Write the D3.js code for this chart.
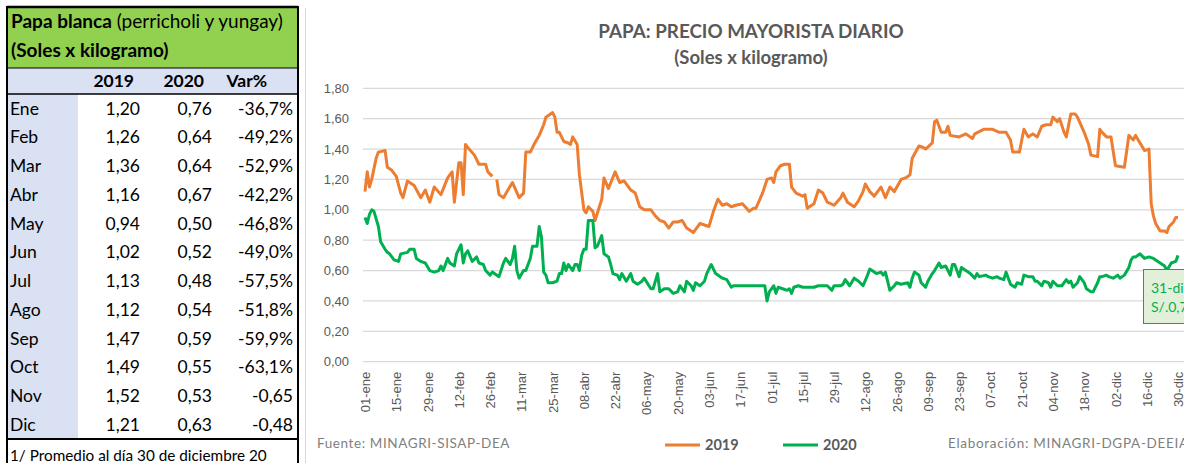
<!DOCTYPE html>
<html>
<head>
<meta charset="utf-8">
<script src="https://cdn.jsdelivr.net/npm/d3@7"></script>
<style>
	body { margin: 0; background: #fff; }
	svg { display: block; font-family: Lato, 'Open Sans', sans-serif; }
</style>
</head>
<body>
<div class="grafico"></div>
<script>
// Dimensiones generales
const width = 1184;
const height = 463;

// Tabla: promedios mensuales (soles x kg)
const meses = ['Ene', 'Feb', 'Mar', 'Abr', 'May', 'Jun', 'Jul', 'Ago', 'Sep', 'Oct', 'Nov', 'Dic'];
const prom2019 = [1.20, 1.26, 1.36, 1.16, 0.94, 1.02, 1.13, 1.12, 1.47, 1.49, 1.52, 1.21];
const prom2020 = [0.76, 0.64, 0.64, 0.67, 0.50, 0.52, 0.48, 0.54, 0.59, 0.55, 0.53, 0.63];
const variacion = ['-36,7%', '-49,2%', '-52,9%', '-42,2%', '-46,8%', '-49,0%', '-57,5%', '-51,8%', '-59,9%', '-63,1%', '-0,65', '-0,48'];

// Precio diario: [día del año (0 = 01-ene), precio]
const serie2019 = [[0,1.12],[1,1.25],[2,1.15],[3,1.20],[5,1.34],[6,1.38],[9,1.39],[10,1.28],[12,1.26],[14,1.22],[16,1.11],[17,1.08],[19,1.19],[22,1.16],[25,1.08],[27,1.13],[29,1.05],[31,1.15],[34,1.10],[37,1.21],[39,1.25],[40,1.05],[42,1.31],[43,1.31],[44,1.10],[45,1.43],[46,1.41],[49,1.36],[51,1.30],[54,1.30],[55,1.25],[57,1.22],[58,null],[59,1.20],[60,1.10],[62,1.08],[64,1.13],[66,1.18],[69,1.08],[71,1.11],[72,1.38],[74,1.38],[76,1.44],[78,1.49],[80,1.56],[81,1.61],[84,1.64],[85,1.61],[86,1.51],[87,1.51],[89,1.45],[91,1.44],[92,1.43],[93,1.48],[95,1.43],[96,1.23],[98,1.00],[99,0.98],[100,1.02],[102,0.99],[103,0.93],[106,1.07],[107,1.21],[109,1.14],[112,1.25],[114,1.18],[116,1.19],[119,1.13],[121,1.11],[123,1.02],[125,1.00],[128,1.00],[130,0.96],[132,0.93],[134,0.92],[136,0.88],[138,0.92],[140,0.92],[142,0.93],[144,0.88],[147,0.85],[150,0.91],[152,0.90],[154,0.89],[156,0.99],[158,1.07],[160,1.03],[162,1.04],[164,1.02],[166,1.03],[169,1.04],[172,0.99],[174,1.01],[175,1.01],[178,1.11],[180,1.20],[182,1.21],[183,1.18],[184,1.25],[186,1.29],[188,1.30],[190,1.30],[191,1.15],[193,1.11],[196,1.09],[197,1.10],[198,1.01],[201,1.04],[203,1.13],[205,1.11],[207,1.05],[210,1.03],[213,1.08],[214,1.11],[216,1.05],[219,1.02],[221,1.06],[223,1.12],[224,1.17],[226,1.12],[228,1.09],[231,1.15],[233,1.08],[235,1.15],[237,1.12],[240,1.20],[242,1.21],[244,1.23],[245,1.34],[248,1.42],[250,1.41],[251,1.40],[254,1.44],[255,1.58],[256,1.59],[258,1.51],[260,1.51],[261,1.55],[262,1.49],[266,1.48],[269,1.50],[272,1.47],[273,1.50],[277,1.53],[281,1.53],[284,1.51],[287,1.51],[289,1.46],[290,1.38],[293,1.38],[295,1.53],[297,1.48],[299,1.50],[301,1.48],[303,1.55],[305,1.56],[307,1.56],[308,1.61],[310,1.58],[311,1.60],[313,1.51],[314,1.48],[316,1.63],[318,1.63],[319,1.61],[322,1.51],[324,1.43],[325,1.36],[328,1.35],[329,1.53],[330,1.51],[332,1.48],[334,1.48],[336,1.29],[340,1.28],[342,1.49],[344,1.46],[345,1.49],[347,1.44],[349,1.39],[351,1.40],[352,1.04],[353,0.96],[354,0.91],[356,0.86],[358,0.86],[359,0.85],[360,0.89],[362,0.92],[363,0.95],[364,0.95]];

const serie2020 = [[0,0.95],[1,0.91],[2,0.97],[3,1.00],[4,0.99],[5,0.94],[6,0.89],[7,0.79],[9,0.74],[10,0.72],[11,0.71],[13,0.67],[15,0.66],[16,0.71],[19,0.72],[20,0.74],[22,0.74],[23,0.68],[25,0.66],[27,0.65],[29,0.60],[31,0.59],[33,0.60],[34,0.63],[35,0.60],[37,0.68],[38,0.65],[40,0.63],[41,0.71],[43,0.77],[44,0.65],[45,0.71],[46,0.73],[48,0.66],[50,0.69],[51,0.65],[53,0.64],[54,0.60],[56,0.57],[57,0.59],[60,0.56],[62,0.65],[63,0.68],[65,0.64],[66,0.68],[67,0.76],[68,0.60],[69,0.55],[71,0.60],[72,0.60],[74,0.68],[75,0.76],[77,0.76],[78,0.89],[79,0.82],[80,0.59],[81,0.57],[82,0.52],[84,0.52],[86,0.53],[87,0.58],[88,0.58],[89,0.65],[90,0.60],[91,0.64],[93,0.60],[94,0.64],[95,0.64],[96,0.60],[97,0.70],[98,0.74],[99,0.74],[100,0.93],[102,0.93],[103,0.75],[104,0.76],[106,0.83],[107,0.71],[109,0.69],[110,0.64],[111,0.58],[113,0.57],[114,0.54],[115,0.58],[117,0.53],[119,0.58],[120,0.53],[122,0.51],[124,0.53],[125,0.55],[128,0.48],[129,0.48],[131,0.58],[132,0.46],[134,0.48],[136,0.48],[138,0.45],[140,0.46],[141,0.50],[143,0.46],[144,0.53],[146,0.50],[147,0.47],[148,0.52],[150,0.50],[152,0.53],[153,0.58],[155,0.64],[156,0.61],[157,0.58],[160,0.55],[162,0.54],[164,0.49],[165,0.50],[168,0.50],[171,0.50],[174,0.50],[177,0.50],[179,0.50],[180,0.40],[181,0.46],[183,0.50],[184,0.45],[185,0.49],[187,0.48],[189,0.47],[190,0.48],[191,0.45],[192,0.49],[194,0.50],[196,0.49],[199,0.49],[201,0.49],[203,0.50],[205,0.50],[207,0.50],[209,0.47],[210,0.50],[213,0.50],[214,0.51],[215,0.54],[217,0.50],[219,0.55],[221,0.53],[223,0.50],[225,0.57],[226,0.61],[228,0.59],[229,0.58],[231,0.59],[232,0.57],[233,0.59],[235,0.47],[237,0.50],[238,0.52],[240,0.51],[243,0.52],[244,0.49],[245,0.55],[246,0.59],[248,0.57],[249,0.52],[251,0.49],[252,0.53],[254,0.58],[255,0.60],[257,0.65],[258,0.62],[260,0.63],[262,0.57],[263,0.64],[264,0.64],[265,0.60],[266,0.56],[267,0.62],[269,0.60],[271,0.58],[273,0.55],[274,0.58],[275,0.56],[278,0.57],[279,0.56],[281,0.55],[283,0.56],[284,0.55],[286,0.54],[287,0.59],[289,0.51],[291,0.49],[292,0.52],[294,0.51],[295,0.57],[297,0.56],[299,0.56],[300,0.53],[301,0.53],[303,0.50],[304,0.53],[306,0.52],[307,0.49],[308,0.53],[310,0.50],[312,0.50],[314,0.54],[315,0.52],[316,0.53],[317,0.49],[319,0.52],[320,0.56],[322,0.52],[323,0.48],[325,0.46],[326,0.46],[328,0.52],[329,0.56],[330,0.56],[332,0.57],[333,0.56],[335,0.55],[337,0.57],[338,0.55],[340,0.57],[342,0.62],[343,0.67],[344,0.69],[345,0.69],[347,0.71],[349,0.68],[351,0.69],[353,0.68],[356,0.65],[358,0.63],[359,0.60],[361,0.65],[363,0.66],[364,0.70]];

// Ejes
const diasTicks = [0, 14, 28, 42, 56, 70, 84, 98, 112, 126, 140, 154, 168, 182, 196, 210, 224, 238, 252, 266, 280, 294, 308, 322, 336, 350, 364];
const etiquetasX = ['01-ene', '15-ene', '29-ene', '12-feb', '26-feb', '11-mar', '25-mar', '08-abr', '22-abr', '06-may', '20-may', '03-jun', '17-jun', '01-jul', '15-jul', '29-jul', '12-ago', '26-ago', '09-sep', '23-sep', '07-oct', '21-oct', '04-nov', '18-nov', '02-dic', '16-dic', '30-dic'];
const ticksY = [0, 0.2, 0.4, 0.6, 0.8, 1.0, 1.2, 1.4, 1.6, 1.8];

// Series y colores
const series = [
	{ nombre: '2019', datos: serie2019, color: '#ed7d31' },
	{ nombre: '2020', datos: serie2020, color: '#00b050' },
];

const gris = '#595959';
const es = d3.formatLocale({ decimal: ',', thousands: '.', grouping: [3], currency: ['S/.', ''] });
const fmt = es.format('.2f');

const svg = d3.select('.grafico')
	.append('svg')
	.attr('width', width)
	.attr('height', height);

function dibujarTabla() {
	const tx = 7, tr = 298;
	const filaAlto = 28.75;
	const filaInicio = 94;
	const g = svg.append('g');

	// Fondos
	g.append('rect').attr('x', tx).attr('y', 7).attr('width', tr - tx).attr('height', 61).attr('fill', '#92d050');
	g.append('rect').attr('x', tx).attr('y', 68).attr('width', tr - tx).attr('height', 26).attr('fill', '#d9e1f2');
	g.append('rect').attr('x', tx).attr('y', filaInicio).attr('width', 71).attr('height', filaAlto * 12).attr('fill', '#d9e1f2');

	// Títulos
	const t1 = g.append('text').attr('x', 11).attr('y', 28).attr('font-size', 19).attr('fill', '#000');
	t1.append('tspan').attr('font-weight', 'bold').text('Papa blanca');
	t1.append('tspan').text(' (perricholi y yungay)');
	g.append('text').attr('x', 11).attr('y', 57).attr('font-size', 19)
		.attr('font-weight', 'bold').text('(Soles x kilogramo)');

	// Encabezado de columnas
	const colX = [140, 212, 293];
	const encabezado = g.append('g').attr('font-weight', 'bold').attr('font-size', 17.5).attr('text-anchor', 'end');
	encabezado.append('text').attr('x', 134).attr('y', 87).text('2019');
	encabezado.append('text').attr('x', 204).attr('y', 87).text('2020');
	encabezado.append('text').attr('x', 267).attr('y', 87).text('Var%');

	// Filas
	const filas = g.selectAll('g.fila')
		.data(meses)
		.join('g')
			.attr('class', 'fila')
			.attr('transform', (d, i) => `translate(0, ${filaInicio + filaAlto * i + filaAlto / 2})`)
			.attr('font-size', 17.5);
	filas.append('text').attr('x', 10).attr('dy', '0.35em').text(d => d);
	filas.append('text').attr('x', colX[0]).attr('dy', '0.35em').attr('text-anchor', 'end').text((d, i) => fmt(prom2019[i]));
	filas.append('text').attr('x', colX[1]).attr('dy', '0.35em').attr('text-anchor', 'end').text((d, i) => fmt(prom2020[i]));
	filas.append('text').attr('x', colX[2]).attr('dy', '0.35em').attr('text-anchor', 'end').text((d, i) => variacion[i]);

	// Bordes
	const finFilas = filaInicio + filaAlto * 12;
	g.append('line').attr('x1', tx).attr('x2', tr).attr('y1', 7).attr('y2', 7).attr('stroke', '#000').attr('stroke-width', 2.5);
	g.append('line').attr('x1', tx).attr('x2', tr).attr('y1', 68).attr('y2', 68).attr('stroke', '#000').attr('stroke-width', 1);
	g.append('line').attr('x1', tx).attr('x2', tr).attr('y1', filaInicio).attr('y2', filaInicio).attr('stroke', '#000').attr('stroke-width', 1.5);
	g.append('line').attr('x1', tx).attr('x2', tr).attr('y1', finFilas).attr('y2', finFilas).attr('stroke', '#000').attr('stroke-width', 2);
	g.append('line').attr('x1', tx).attr('x2', tx).attr('y1', 6).attr('y2', height).attr('stroke', '#000').attr('stroke-width', 2);
	g.append('line').attr('x1', tr).attr('x2', tr).attr('y1', 6).attr('y2', height).attr('stroke', '#000').attr('stroke-width', 2);

	// Nota
	g.append('text').attr('x', 10).attr('y', 461).attr('font-size', 15.3).text('1/ Promedio al día 30 de diciembre 20');
}

function dibujarGrafico() {
	// Borde del área del gráfico
	svg.append('line').attr('x1', 305.5).attr('x2', 305.5).attr('y1', 8).attr('y2', height)
		.attr('stroke', '#d9d9d9');

	// Títulos
	svg.append('text').attr('x', 751).attr('y', 38).attr('text-anchor', 'middle')
		.attr('font-size', 18.8).attr('font-weight', 'bold').attr('fill', gris)
		.text('PAPA: PRECIO MAYORISTA DIARIO');
	svg.append('text').attr('x', 751).attr('y', 64).attr('text-anchor', 'middle')
		.attr('font-size', 18.5).attr('font-weight', 'bold').attr('fill', gris)
		.text('(Soles x kilogramo)');

	// Escalas
	const x = d3.scaleLinear().domain([0, 364]).range([365, 1178]);
	const y = d3.scaleLinear().domain([0, 1.8]).range([361.7, 88.3]);

	// Líneas de cuadrícula
	svg.append('g')
		.selectAll('line')
		.data(ticksY)
		.join('line')
			.attr('x1', 363).attr('x2', width)
			.attr('y1', d => y(d)).attr('y2', d => y(d))
			.attr('stroke', '#d9d9d9').attr('stroke-width', 1.3);

	// Eje vertical
	svg.append('g')
		.attr('transform', 'translate(363, 0)')
		.call(d3.axisLeft(y).tickValues(ticksY).tickFormat(fmt).tickSize(0).tickPadding(14))
		.call(g => g.select('.domain').remove())
		.call(g => g.selectAll('text').attr('font-size', 13).attr('fill', gris).attr('font-family', null));

	// Eje horizontal
	svg.append('g')
		.attr('transform', `translate(0, ${y(0)})`)
		.call(d3.axisBottom(x).tickValues(diasTicks).tickFormat((d, i) => etiquetasX[i]).tickSize(0))
		.call(g => g.select('.domain').remove())
		.call(g => g.selectAll('text')
			.attr('font-size', 13).attr('fill', gris).attr('font-family', null)
			.attr('transform', 'rotate(-90)')
			.attr('x', -10).attr('y', 0).attr('dy', '0.35em')
			.attr('text-anchor', 'end'));

	// Series
	const linea = d3.line()
		.defined(d => d[1] !== null)
		.x(d => x(d[0]))
		.y(d => y(d[1]));

	svg.append('g')
		.selectAll('path')
		.data(series)
		.join('path')
			.attr('d', d => linea(d.datos))
			.attr('fill', 'none')
			.attr('stroke', d => d.color)
			.attr('stroke-width', 3)
			.attr('stroke-linejoin', 'round');

	// Etiqueta del último dato
	const ultimo = serie2020[serie2020.length - 1];
	const etiqueta = svg.append('g').attr('transform', `translate(${x(ultimo[0]) - 35}, 269)`);
	etiqueta.append('rect').attr('x', 0.5).attr('y', 0.5).attr('width', 70).attr('height', 54)
		.attr('fill', '#e2f0d9').attr('stroke', '#00b050');
	etiqueta.append('text').attr('x', 8).attr('y', 24).attr('font-size', 14).attr('fill', '#00b050').text('31-dic');
	etiqueta.append('text').attr('x', 8).attr('y', 43).attr('font-size', 14).attr('fill', '#00b050')
		.text('S/.' + fmt(ultimo[1]));

	// Leyenda
	const leyenda = svg.append('g')
		.selectAll('g')
		.data(series)
		.join('g')
			.attr('transform', (d, i) => `translate(${665 + i * 118}, 445)`);
	leyenda.append('line').attr('x1', 0).attr('x2', 35).attr('stroke', d => d.color).attr('stroke-width', 3);
	leyenda.append('text').attr('x', 40).attr('dy', '0.35em').attr('font-size', 14.5)
		.attr('font-weight', 'bold').attr('fill', gris).text(d => d.nombre);

	// Fuente y elaboración
	svg.append('text').attr('x', 317).attr('y', 448).attr('font-size', 13.5).attr('fill', '#7f7f7f')
		.attr('letter-spacing', 0.6).text('Fuente: MINAGRI-SISAP-DEA');
	svg.append('text').attr('x', 948).attr('y', 448).attr('font-size', 13.5).attr('fill', '#7f7f7f')
		.attr('letter-spacing', 0.7).text('Elaboración: MINAGRI-DGPA-DEEIA');
}

dibujarTabla();
dibujarGrafico();
</script>
</body>
</html>
